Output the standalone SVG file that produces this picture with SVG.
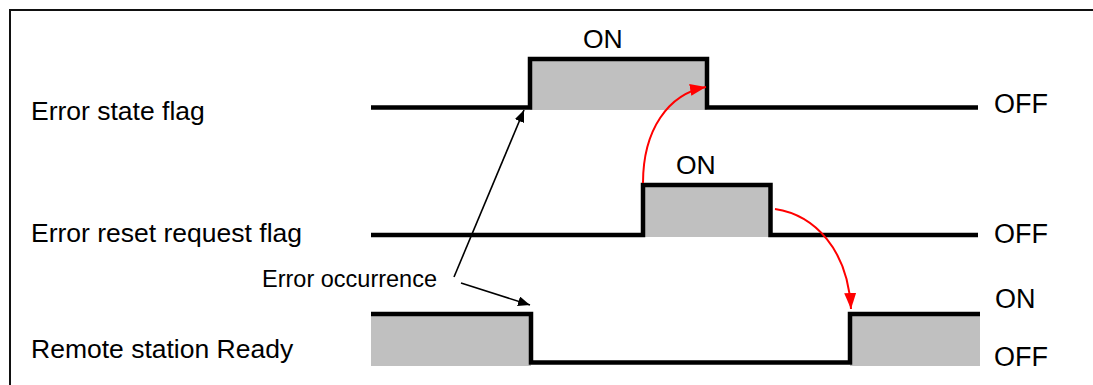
<svg xmlns="http://www.w3.org/2000/svg" width="1093" height="385" viewBox="0 0 1093 385">
  <style>
    .lbl { font-family: "Liberation Sans", Arial, sans-serif; font-size: 26.5px; fill: #000; }
    .state { font-family: "Liberation Sans", Arial, sans-serif; font-size: 27px; fill: #000; }
    .note { font-family: "Liberation Sans", Arial, sans-serif; font-size: 23.5px; fill: #000; }
    .sig { fill: none; stroke: #000; stroke-width: 4.5; stroke-linejoin: miter; stroke-linecap: butt; }
    .on { fill: #c0c0c0; stroke: none; }
    .blk { fill: none; stroke: #000; stroke-width: 1.6; }
    .red { fill: none; stroke: #ff0000; stroke-width: 2; }
  </style>
  <defs>
    <marker id="ahBlack" viewBox="0 0 12 10" refX="12" refY="5" markerWidth="12" markerHeight="10" markerUnits="userSpaceOnUse" orient="auto">
      <path d="M0,0 L12,5 L0,10 Z" fill="#000"/>
    </marker>
    <marker id="ahRed" viewBox="0 0 16 12" refX="16" refY="6" markerWidth="16" markerHeight="12" markerUnits="userSpaceOnUse" orient="auto">
      <path d="M0,0 L16,6 L0,12 Z" fill="#ff0000"/>
    </marker>
  </defs>

  <rect width="1093" height="385" fill="#fff"/>
  <!-- frame -->
  <rect x="10" y="10" width="1100" height="400" fill="none" stroke="#111" stroke-width="2"/>

  <g id="error-state-flag">
    <rect class="on" x="530" y="59" width="177" height="51"/>
    <path class="sig" d="M371,107.5 H530 V59 H707 V107.5 H978"/>
    <text class="lbl" x="31" y="120">Error state flag</text>
    <text class="lbl" x="583" y="48">ON</text>
    <text class="state" x="994" y="113">OFF</text>
  </g>

  <g id="error-reset-request-flag">
    <rect class="on" x="643" y="185" width="128" height="52"/>
    <path class="sig" d="M371,235 H643 V185 H770.5 V235 H978"/>
    <text class="lbl" x="31" y="242">Error reset request flag</text>
    <text class="lbl" x="676" y="174">ON</text>
    <text class="state" x="994" y="243">OFF</text>
  </g>

  <g id="remote-station-ready">
    <rect class="on" x="371" y="314" width="160" height="52"/>
    <rect class="on" x="850" y="314" width="130" height="52"/>
    <path class="sig" d="M371,314 H531 V362.5 H850 V314 H980"/>
    <text class="lbl" x="31" y="358">Remote station Ready</text>
    <text class="state" x="995" y="308">ON</text>
    <text class="state" x="994" y="366">OFF</text>
  </g>

  <g id="error-occurrence">
    <text class="note" x="262" y="287">Error occurrence</text>
  </g>

  <g id="connectors">
    <line class="blk" x1="454" y1="277" x2="524" y2="110" marker-end="url(#ahBlack)"/>
    <line class="blk" x1="461" y1="283" x2="530" y2="305" marker-end="url(#ahBlack)"/>
    <path class="red" d="M643,183 C643,130 668,94 706,87" marker-end="url(#ahRed)"/>
    <path class="red" d="M775,209 C815,215 848,250 851,309" marker-end="url(#ahRed)"/>
  </g>
</svg>
